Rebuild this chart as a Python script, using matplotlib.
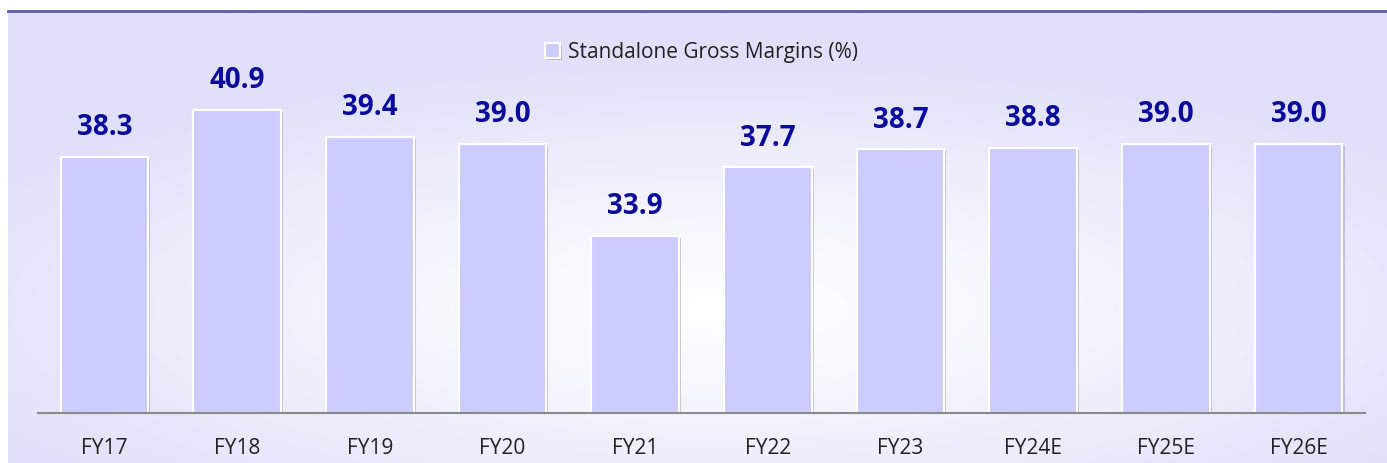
import numpy as np
import matplotlib

matplotlib.use('Agg')
import matplotlib.pyplot as plt
import matplotlib.patheffects as pe

years = ['FY17', 'FY18', 'FY19', 'FY20', 'FY21', 'FY22', 'FY23', 'FY24E', 'FY25E', 'FY26E']
margins = [38.3, 40.9, 39.4, 39.0, 33.9, 37.7, 38.7, 38.8, 39.0, 39.0]
series_name = 'Standalone Gross Margins (%)'

bar_color = '#CCCCFF'
label_color = '#0A0A9C'
lavender = np.array([224, 224, 250]) / 255.

W, H = 1387, 463
fig = plt.figure(figsize=(W / 100, H / 100), dpi=100)

# background panel with soft radial gradient
bg = fig.add_axes([8 / W, 0, 1 - 8 / W, 451 / H])
ny, nx = 200, 600
yy, xx = np.mgrid[0:ny, 0:nx]
t = np.sqrt(((xx - nx * 0.52) / (nx * 0.62)) ** 2 + ((yy - ny * 0.34) / (ny * 0.55)) ** 2)
t = np.clip(t, 0, 1) ** 1.2
img = (1 - t[..., None]) * np.ones(3) + t[..., None] * lavender
bg.imshow(img, aspect='auto', extent=[0, 1, 0, 1], origin='lower')
bg.axis('off')

# thin rule at the top
fig.add_artist(plt.Line2D([8 / W, 1], [1 - 10.5 / H, 1 - 10.5 / H], color='#5A5AAA', lw=2))

ax = fig.add_axes([38 / W, 50 / H, (1365 - 38) / W, (413 - 40) / H])
ax.patch.set_alpha(0)

x = np.arange(len(years))
ymin = 24.05
bars = ax.bar(x, [m - ymin for m in margins], bottom=ymin, width=0.66, color=bar_color,
              edgecolor='white', linewidth=1.5, label=series_name, zorder=3)
for b in bars:
    b.set_path_effects([pe.SimplePatchShadow(offset=(1.5, -1.5), shadow_rgbFace='#9a9ab0', alpha=0.5),
                        pe.Normal()])

ax.set_ylim(ymin, ymin + 373 / 18.0)
ax.set_xlim(-0.5, 9.5)

for xi, v in zip(x, margins):
    ax.annotate('{:.1f}'.format(v), (xi, v), xytext=(0, 10.5), textcoords='offset points',
                ha='center', va='bottom', fontsize=20, fontweight='bold',
                color=label_color, family=['Open Sans', 'DejaVu Sans'])

for s in ['top', 'right', 'left']:
    ax.spines[s].set_visible(False)
ax.spines['bottom'].set_color('#8a8a8a')
ax.spines['bottom'].set_linewidth(1.5)
ax.spines['bottom'].set_zorder(4)
ax.set_yticks([])
ax.set_xticks(x)
ax.set_xticklabels(years, fontsize=15, color='#222222', family=['Open Sans', 'DejaVu Sans'])
ax.tick_params(axis='x', length=0, pad=18)

leg = ax.legend(loc='upper center', bbox_to_anchor=(0.5, 1.045), frameon=False,
                handlelength=0.75, handleheight=0.75, handletextpad=0.4,
                prop={'family': ['Open Sans', 'DejaVu Sans'], 'size': 15})
for txt in leg.get_texts():
    txt.set_color('#222222')

fig.savefig('out.png', dpi=100)
